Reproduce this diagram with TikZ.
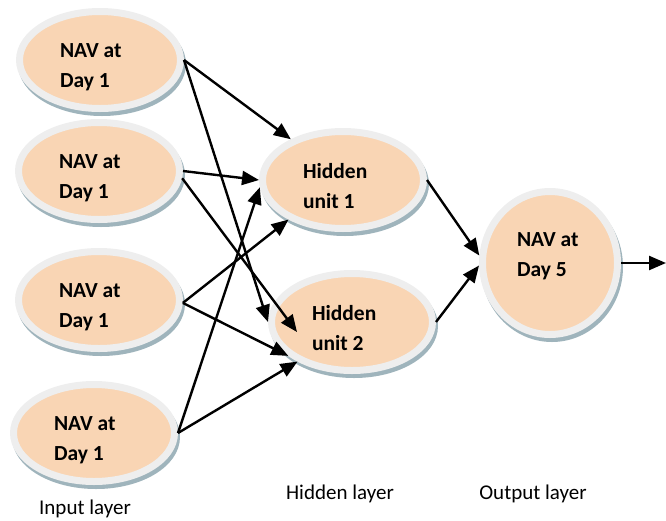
\documentclass[tikz,border=0pt]{standalone}
\usepackage{fontspec}
\setmainfont{Carlito}
\usetikzlibrary{shapes.geometric, arrows.meta, calc}

\definecolor{peach}{HTML}{F9D5B4}
\definecolor{ring}{HTML}{EEEEEE}
\definecolor{shade}{HTML}{9FB4BC}

\begin{document}
\begin{tikzpicture}[
  x=1pt, y=-1pt,
  unit/.style    = {ellipse, fill=peach, draw=ring, line width=7pt,
                    minimum width=161pt, minimum height=97pt,
                    preaction={draw=shade, fill=shade,
                               transform canvas={shift={(2pt,-4pt)}}},
                    text width=80pt, text height=28pt, align=flush left,
                    font=\fontsize{21.5}{30}\selectfont\bfseries},
  outunit/.style = {unit, minimum width=135pt, minimum height=143pt,
                    text width=66pt, text height=12pt, text depth=46pt},
  arr/.style     = {-{Triangle[length=17pt, width=14pt]}, line width=2.4pt},
  layer/.style   = {font=\fontsize{21}{22}\selectfont},
]
\useasboundingbox (0,0) rectangle (666,520);

%── Входной слой ──────────────────────────────────────────────────────────
\node[unit] (in1) at (100,60)  {NAV at\\Day 1};
\node[unit] (in2) at (99,171)  {NAV at\\Day 1};
\node[unit] (in3) at (99,300)  {NAV at\\Day 1};
\node[unit] (in4) at (94,433)  {NAV at\\Day 1};

%── Скрытый и выходной слой ───────────────────────────────────────────────
\node[unit]    (hid1) at (343,180) {Hidden\\unit 1};
\node[unit]    (hid2) at (352,322) {Hidden\\unit 2};
\node[outunit] (out)  at (550,263) {NAV at\\Day 5};
\coordinate (exit) at (666,263);

%── Подписи слоёв ─────────────────────────────────────────────────────────
\node[layer] (lin)  at (85,509)  {Input layer};
\node[layer] (lhid) at (340,494) {Hidden layer};
\node[layer] (lout) at (533,494) {Output layer};

%── Связи вход -> скрытый ─────────────────────────────────────────────────
\draw[arr] (in1.east) -- (hid1.142);
\draw[arr] (in1.east) -- (hid2.180);
\draw[arr] (in2.east) -- (hid1.180);
\draw[arr] (in2.355)  -- ($(hid2.center)+(-55,10)$);
\draw[arr] (in3.358)  -- (hid1.216);
\draw[arr] (in3.358)  -- (hid2.208);
\draw[arr] (in4.east) -- (hid1.185);
\draw[arr] (in4.east) -- (hid2.216);

%── Связи скрытый -> выход ────────────────────────────────────────────────
\draw[arr] (hid1.east) -- (out.174);
\draw[arr] (hid2.east) -- (out.182);
\draw[arr] (out.east)  -- (exit);

\end{tikzpicture}
\end{document}
